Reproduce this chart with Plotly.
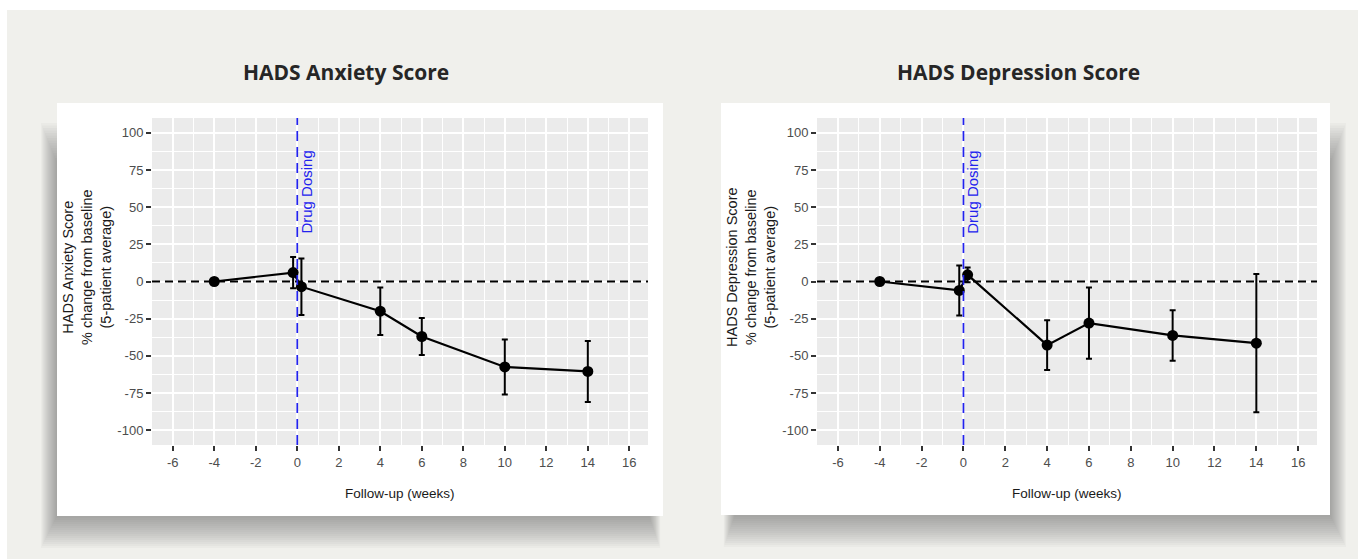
import plotly.graph_objects as go

# ---------------- data ----------------
weeks = [-4, -0.2, 0.2, 4, 6, 10, 14]
anx_mean = [0, 6, -3.5, -20, -37, -57.5, -60.5]
anx_err = [0, 10.5, 19, 16, 12.5, 18.5, 20.5]
dep_mean = [0, -6, 4.5, -42.8, -28, -36.3, -41.5]
dep_err = [0, 16.8, 5, 16.8, 24, 17, 46.5]

x_ticks = [-6, -4, -2, 0, 2, 4, 6, 8, 10, 12, 14, 16]
y_ticks = [-100, -75, -50, -25, 0, 25, 50, 75, 100]

titles = ["HADS Anxiety Score", "HADS Depression Score"]
y_titles = ["HADS Anxiety Score<br>% change from baseline<br>(5-patient average)",
            "HADS Depression Score<br>% change from baseline<br>(5-patient average)"]
x_title = "Follow-up (weeks)"
dose_label = "Drug Dosing"

# ---------------- layout helpers ----------------
W, H = 1358, 559
def px(x):
    return x / W
def py(y):
    return 1 - y / H

panels = [
    dict(card=(57, 103, 663, 516), plot=(152, 118, 648, 445), title_x=346, ytitle_x=87),
    dict(card=(721, 103, 1330, 515), plot=(817, 118, 1317, 445), title_x=1018, ytitle_x=751),
]

fig = go.Figure()
shapes = []
annotations = []

# page background
shapes.append(dict(type="rect", xref="paper", yref="paper", x0=px(7), x1=1, y0=0, y1=py(10),
                   fillcolor="#f0f0ec", line_width=0, layer="below"))

data_sets = [(anx_mean, anx_err), (dep_mean, dep_err)]
TEXT_FONT = "Liberation Sans, Arial, sans-serif"

for i, p in enumerate(panels):
    cx0, cy0, cx1, cy1 = p["card"]
    # soft shadow (layered translucent rectangles)
    n = 16
    for k in range(1, n + 1):
        if i == 0:
            sx0, sx1 = cx0 - 1.0 * k, cx1 - 14 + 0.7 * k
        else:
            sx0, sx1 = cx0 + 14 - 0.7 * k, cx1 + 1.0 * k
        shapes.append(dict(type="rect", xref="paper", yref="paper",
                           x0=px(sx0), x1=px(sx1), y0=py(cy1 + 2.0 * k), y1=py(cy0 + 60 - 2.5 * k),
                           fillcolor="rgba(80,80,75,0.035)", line_width=0, layer="below"))
    # card
    shapes.append(dict(type="rect", xref="paper", yref="paper", x0=px(cx0), x1=px(cx1),
                       y0=py(cy1), y1=py(cy0), fillcolor="white", line_width=0, layer="below"))
    # panel background
    x0, y0, x1, y1 = p["plot"]
    shapes.append(dict(type="rect", xref="paper", yref="paper", x0=px(x0), x1=px(x1),
                       y0=py(y1), y1=py(y0), fillcolor="#ebebeb", line_width=0, layer="below"))

    xa = "x" if i == 0 else "x2"
    ya = "y" if i == 0 else "y2"
    axis_common = dict(
        showgrid=True, gridcolor="white", gridwidth=1.6, zeroline=False, showline=False,
        ticks="outside", ticklen=5, tickwidth=2, tickcolor="#333333",
        tickfont=dict(family=TEXT_FONT, size=13, color="#4d4d4d"),
        fixedrange=True,
    )
    xaxis = dict(axis_common, domain=[px(x0), px(x1)], range=[-7, 16.9],
                 tickvals=x_ticks, ticktext=[str(v) for v in x_ticks],
                 anchor=ya, minor=dict(dtick=1, tick0=-7, showgrid=True, gridcolor="white", gridwidth=0.8))
    yaxis = dict(axis_common, domain=[py(y1), py(y0)], range=[-110, 110],
                 tickvals=y_ticks, ticktext=[str(v) for v in y_ticks],
                 anchor=xa, minor=dict(dtick=12.5, tick0=0, showgrid=True, gridcolor="white", gridwidth=0.8))
    if i == 0:
        fig.update_layout(xaxis=xaxis, yaxis=yaxis)
    else:
        fig.update_layout(xaxis2=xaxis, yaxis2=yaxis)

    mean, err = data_sets[i]
    fig.add_trace(go.Scatter(
        x=weeks, y=mean, xaxis=xa, yaxis=ya, mode="lines+markers",
        line=dict(color="black", width=2.2),
        marker=dict(color="black", size=11),
        error_y=dict(type="data", array=err, visible=True, color="black", thickness=2, width=3),
        showlegend=False, hoverinfo="x+y",
    ))

    # reference lines
    shapes.append(dict(type="line", xref=f"{xa} domain", yref=ya, x0=0, x1=1, y0=0, y1=0,
                       line=dict(color="black", width=2.2, dash="8px,5px"), layer="above"))
    shapes.append(dict(type="line", xref=xa, yref=f"{ya} domain", x0=0, x1=0, y0=0, y1=1,
                       line=dict(color="#2222ee", width=1.7, dash="10px,6px"), layer="above"))

    # drug dosing label
    annotations.append(dict(text=dose_label, xref=xa, yref=ya, x=0, y=60, xshift=9,
                            textangle=-90, showarrow=False,
                            font=dict(family=TEXT_FONT, size=15, color="#2222ee")))
    # titles
    annotations.append(dict(text=titles[i], xref="paper", yref="paper", x=px(p["title_x"]), y=py(72),
                            xanchor="center", yanchor="middle", showarrow=False,
                            font=dict(family="Open Sans, Noto Sans, sans-serif", size=21,
                                      color="#262626", weight=700)))
    annotations.append(dict(text=y_titles[i], xref="paper", yref="paper", x=px(p["ytitle_x"]), y=py(267),
                            xanchor="center", yanchor="middle", textangle=-90, showarrow=False, align="center",
                            font=dict(family=TEXT_FONT, size=14.5, color="#1a1a1a")))
    annotations.append(dict(text=x_title, xref=f"{xa} domain", yref="paper", x=0.5, y=py(493),
                            xanchor="center", yanchor="middle", showarrow=False,
                            font=dict(family=TEXT_FONT, size=13.5, color="#1a1a1a")))

fig.update_layout(
    width=W, height=H, autosize=False,
    margin=dict(l=0, r=0, t=0, b=0),
    paper_bgcolor="white", plot_bgcolor="rgba(0,0,0,0)",
    shapes=shapes, annotations=annotations, showlegend=False,
)

fig.write_html("out.html", config={"displayModeBar": False},
               post_script="document.body.style.margin='0';document.body.style.overflow='hidden';")
